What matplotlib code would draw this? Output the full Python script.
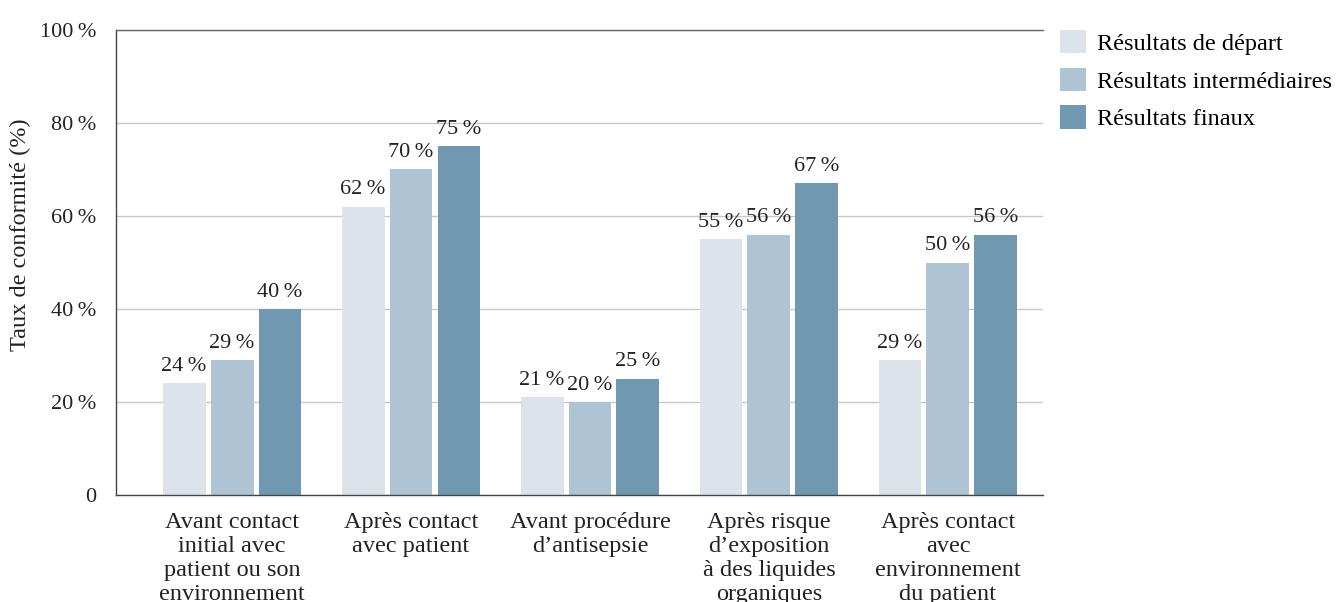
import matplotlib.pyplot as plt
import numpy as np

# data
categories = [
    "Avant contact\ninitial avec\npatient ou son\nenvironnement",
    "Après contact\navec patient",
    "Avant procédure\nd\u2019antisepsie",
    "Après risque\nd\u2019exposition\nà des liquides\norganiques",
    "Après contact\navec\nenvironnement\ndu patient",
]
series_names = ["Résultats de départ", "Résultats intermédiaires", "Résultats finaux"]
depart = [24, 62, 21, 55, 29]
intermediaires = [29, 70, 20, 56, 50]
finaux = [40, 75, 25, 67, 56]
yticks = [0, 20, 40, 60, 80, 100]

colors = ["#dde3eb", "#aec3d3", "#7098b1"]

plt.rcParams['font.family'] = ['Liberation Serif', 'DejaVu Serif']

fig = plt.figure(figsize=(13.37, 6.02), dpi=100)
ax = fig.add_axes([0.0868, 0.1777, 0.6933, 0.7725])

x = np.arange(len(categories))
w = 0.24
step = 0.268
for i, (vals, name) in enumerate(zip([depart, intermediaires, finaux], series_names)):
    pos = x + (i - 1) * step
    ax.bar(pos, vals, width=w, color=colors[i], label=name, zorder=2)
    for p, v in zip(pos, vals):
        ax.text(p, v + 1.6, f"{v}\u2009%", ha='center', va='bottom',
                fontsize=16, color='#222222')

ax.set_xlim(-0.648, 4.531)
ax.set_ylim(0, 100)
ax.set_yticks(yticks)
ax.set_yticklabels(["0" if t == 0 else f"{t}\u2009%" for t in yticks], fontsize=16, color='#222222')
ax.set_xticks(x)
ax.set_xticklabels(categories, fontsize=17.5, color='#222222', linespacing=1.2)
ax.tick_params(axis='both', length=0)
ax.tick_params(axis='y', pad=14)
ax.tick_params(axis='x', pad=12)
ax.yaxis.grid(True, color='#c8c8c8', linewidth=1, zorder=0)
ax.set_axisbelow(True)
ax.spines['right'].set_visible(False)
for s in ['left', 'bottom', 'top']:
    ax.spines[s].set_color('#444444')
    ax.spines[s].set_linewidth(1)
ax.spines['top'].set_color('#666666')

ax.set_ylabel("Taux de conformité (%)", fontsize=17.5, color='#222222')
ax.yaxis.set_label_coords(-0.092, 0.56)

fig.legend(loc='upper left', bbox_to_anchor=(0.7925, 0.95), frameon=False,
           fontsize=17.5, handlelength=1.1, handleheight=1.1, handletextpad=0.45,
           labelspacing=0.52, borderaxespad=0, borderpad=0)

fig.savefig("out.png", dpi=100)
